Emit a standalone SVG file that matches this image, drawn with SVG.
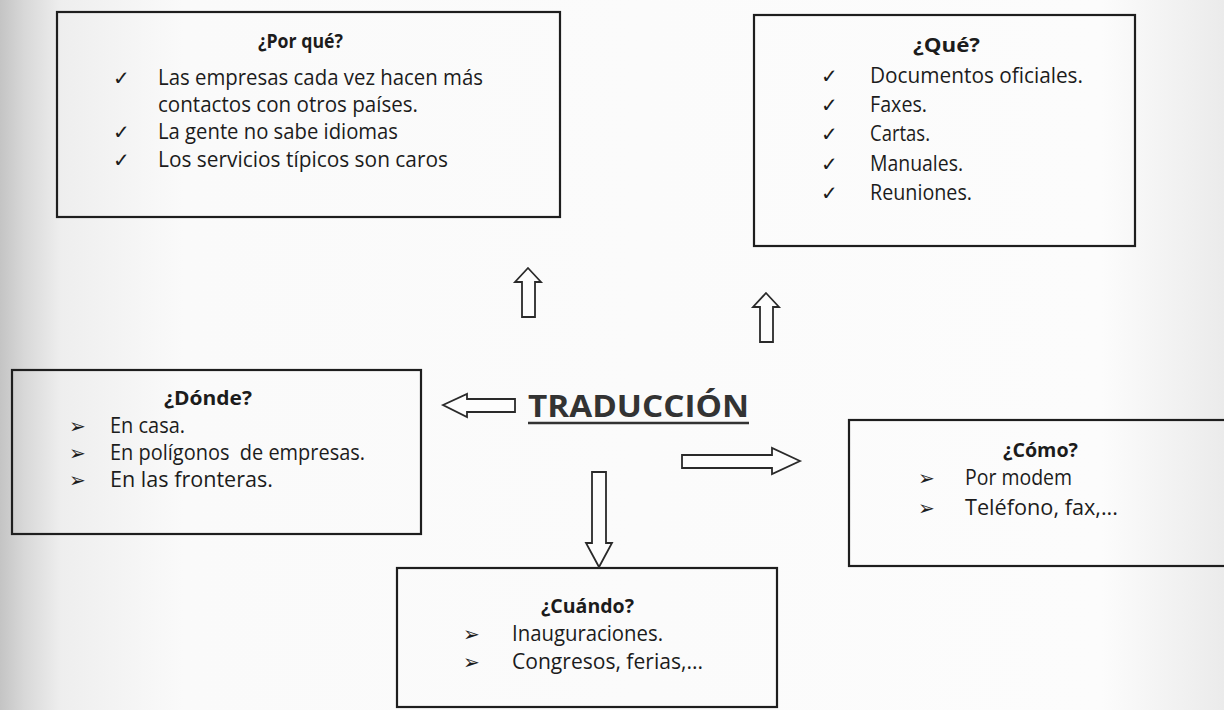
<svg xmlns="http://www.w3.org/2000/svg" width="1224" height="710" viewBox="0 0 1224 710">
<defs>
<linearGradient id="paper" x1="0" y1="0" x2="1" y2="0">
<stop offset="0" stop-color="#c4c4c4"/>
<stop offset="0.02" stop-color="#d8d8d8"/>
<stop offset="0.05" stop-color="#eeeeee"/>
<stop offset="0.15" stop-color="#fafafa"/>
<stop offset="0.9" stop-color="#fcfcfc"/>
<stop offset="1" stop-color="#ebebeb"/>
</linearGradient>
<style>
.box{fill:none;stroke:#1e1e1e;stroke-width:2.2}
.arr{fill:#fdfdfd;stroke:#2a2a2a;stroke-width:1.8;stroke-linejoin:miter}
.t{font-family:"Open Sans","DejaVu Sans",sans-serif;font-size:21px;fill:#1c1c1c}
.h{font-family:"Open Sans","DejaVu Sans",sans-serif;font-size:19px;font-weight:bold;fill:#1c1c1c}
.ck{font-family:"DejaVu Sans",sans-serif;font-size:20px;fill:#1c1c1c}
.bl{font-family:"DejaVu Sans",sans-serif;font-size:20px;fill:#1c1c1c}
.main{font-family:"Open Sans","DejaVu Sans",sans-serif;font-size:30px;font-weight:bold;fill:#333}
</style>
</defs>
<rect x="0" y="0" width="1224" height="710" fill="url(#paper)"/>

<g id="porque">
<rect class="box" x="57" y="12" width="503" height="205"/>
<text class="h" x="258" y="48" textLength="85" lengthAdjust="spacingAndGlyphs">¿Por qué?</text>
<text class="ck" x="113" y="85">✓</text>
<text class="t" x="158" y="85" textLength="325" lengthAdjust="spacingAndGlyphs">Las empresas cada vez hacen más</text>
<text class="t" x="158" y="112" textLength="260" lengthAdjust="spacingAndGlyphs">contactos con otros países.</text>
<text class="ck" x="113" y="139">✓</text>
<text class="t" x="158" y="139" textLength="240" lengthAdjust="spacingAndGlyphs">La gente no sabe idiomas</text>
<text class="ck" x="113" y="167">✓</text>
<text class="t" x="158" y="167" textLength="290" lengthAdjust="spacingAndGlyphs">Los servicios típicos son caros</text>
</g>

<g id="que">
<rect class="box" x="754" y="15" width="381" height="231"/>
<text class="h" x="913" y="52" textLength="67" lengthAdjust="spacingAndGlyphs">¿Qué?</text>
<text class="ck" x="821" y="83">✓</text>
<text class="t" x="870" y="83" textLength="213" lengthAdjust="spacingAndGlyphs">Documentos oficiales.</text>
<text class="ck" x="821" y="112">✓</text>
<text class="t" x="870" y="112" textLength="57" lengthAdjust="spacingAndGlyphs">Faxes.</text>
<text class="ck" x="821" y="141">✓</text>
<text class="t" x="870" y="141" textLength="60" lengthAdjust="spacingAndGlyphs">Cartas.</text>
<text class="ck" x="821" y="171">✓</text>
<text class="t" x="870" y="171" textLength="93" lengthAdjust="spacingAndGlyphs">Manuales.</text>
<text class="ck" x="821" y="200">✓</text>
<text class="t" x="870" y="200" textLength="102" lengthAdjust="spacingAndGlyphs">Reuniones.</text>
</g>

<g id="donde">
<rect class="box" x="12" y="370" width="409" height="164"/>
<text class="h" x="164" y="405" textLength="88" lengthAdjust="spacingAndGlyphs">¿Dónde?</text>
<text class="bl" x="69" y="433">➢</text>
<text class="t" x="110" y="433" textLength="75" lengthAdjust="spacingAndGlyphs">En casa.</text>
<text class="bl" x="69" y="460">➢</text>
<text class="t" x="110" y="460" textLength="255" lengthAdjust="spacingAndGlyphs" xml:space="preserve">En polígonos  de empresas.</text>
<text class="bl" x="69" y="487">➢</text>
<text class="t" x="110" y="487" textLength="163" lengthAdjust="spacingAndGlyphs">En las fronteras.</text>
</g>

<g id="como">
<rect class="box" x="849" y="420" width="390" height="146"/>
<text class="h" x="1003" y="457" textLength="75" lengthAdjust="spacingAndGlyphs">¿Cómo?</text>
<text class="bl" x="918" y="485">➢</text>
<text class="t" x="965" y="485" textLength="107" lengthAdjust="spacingAndGlyphs">Por modem</text>
<text class="bl" x="918" y="515">➢</text>
<text class="t" x="965" y="515" textLength="153" lengthAdjust="spacingAndGlyphs">Teléfono, fax,...</text>
</g>

<g id="cuando">
<rect class="box" x="397" y="568" width="380" height="139"/>
<text class="h" x="541" y="613" textLength="93" lengthAdjust="spacingAndGlyphs">¿Cuándo?</text>
<text class="bl" x="463" y="641">➢</text>
<text class="t" x="512" y="641" textLength="151" lengthAdjust="spacingAndGlyphs">Inauguraciones.</text>
<text class="bl" x="463" y="669">➢</text>
<text class="t" x="512" y="669" textLength="191" lengthAdjust="spacingAndGlyphs">Congresos, ferias,...</text>
</g>

<g id="traduccion">
<text class="main" x="528" y="417" textLength="221" lengthAdjust="spacingAndGlyphs">TRADUCCIÓN</text>
<line x1="528" y1="423" x2="749" y2="423" stroke="#333" stroke-width="2.5"/>
</g>

<g id="connectors">
<polygon class="arr" points="528,268 541,282 535,282 535,317 522,317 522,282 515,282"/>
<polygon class="arr" points="766,293 779,307 773,307 773,342 760,342 760,307 753,307"/>
<polygon class="arr" points="443,405 467,394 467,399 515,399 515,412 467,412 467,417"/>
<polygon class="arr" points="800,461 772,448 772,455 682,455 682,468 772,468 772,474"/>
<polygon class="arr" points="599,567 586,543 592,543 592,472 606,472 606,543 612,543"/>
</g>
</svg>
